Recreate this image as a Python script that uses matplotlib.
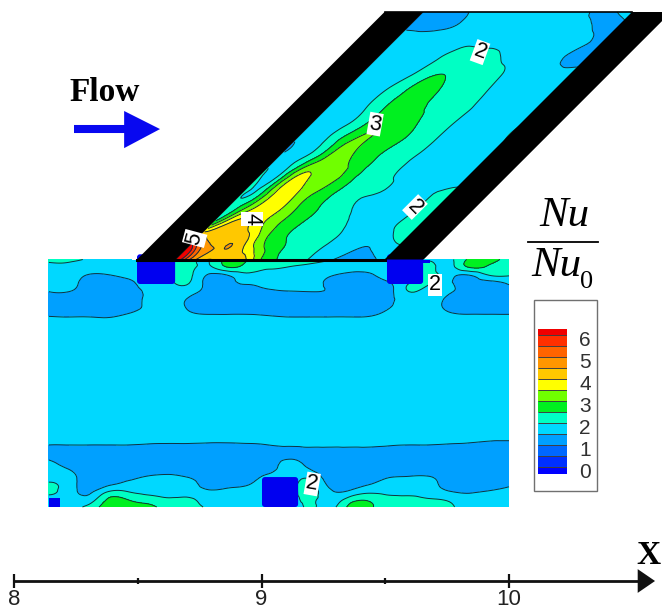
#!/usr/bin/env python

import numpy as np
import matplotlib
matplotlib.use("Agg")
import matplotlib.pyplot as plt
import matplotlib.tri as mtri
from matplotlib.colors import ListedColormap, BoundaryNorm
from matplotlib.patches import Polygon, Rectangle, FancyBboxPatch

# contour levels and band colours
levels = [-1, 0, 0.5, 1, 1.5, 2, 2.5, 3, 3.5, 4, 4.5, 5, 5.5, 6, 7]
line_levels = [0, 0.5, 1, 1.5, 2, 2.5, 3, 3.5, 4, 4.5, 5, 5.5, 6]
band_colors = ['#0000ff', '#0030ff', '#0068ff', '#00a0ff', '#00d8ff', '#00ffc4', '#00f020',
               '#70ff00', '#ffff00', '#ffc800', '#ff9600', '#ff6400', '#ff3000', '#f00000']
legend_ticks = [0, 1, 2, 3, 4, 5, 6]
axis_major = [8, 9, 10]
axis_minor = [8.5, 9.5]

# inclined channel: rows bottom to top, columns across from the left wall to the right wall
channel_y = [1.0, 1.072, 1.139, 1.207, 1.274, 1.341, 1.409, 1.476, 1.543, 1.611, 1.678, 1.745, 1.813, 1.880, 1.947, 2.0]
channel_u = np.linspace(0, 1, 13)
channel_nu = [
    [6.6, 4.6, 4.0, 4.25, 3.95, 2.8, 2.45, 2.15, 1.85, 1.48, 1.35, 1.4, 1.7],
    [5.6, 4.4, 4.45, 3.95, 3.0, 2.55, 2.3, 2.15, 1.97, 1.8, 1.6, 1.85, 2.1],
    [3.0, 4.2, 4.1, 3.45, 2.9, 2.5, 2.3, 2.15, 1.95, 1.85, 1.85, 2.15, 2.3],
    [2.1, 3.05, 3.8, 3.55, 2.95, 2.55, 2.25, 2.02, 1.85, 1.8, 1.7, 2.1, 2.3],
    [2.1, 2.4, 3.7, 3.55, 3.05, 2.6, 2.25, 2.05, 1.95, 1.7, 1.85, 2.0, 2.1],
    [2.1, 1.97, 3.4, 3.4, 3.2, 2.75, 2.4, 2.15, 1.95, 1.85, 1.8, 1.8, 1.8],
    [1.7, 1.9, 2.45, 3.2, 3.05, 2.7, 2.4, 2.15, 1.95, 1.85, 1.8, 1.8, 1.8],
    [1.5, 1.8, 2.2, 2.95, 3.0, 2.75, 2.5, 2.25, 1.98, 1.85, 1.8, 1.8, 2.02],
    [1.55, 1.7, 2.0, 2.5, 2.95, 2.8, 2.5, 2.25, 2.0, 1.85, 1.8, 1.75, 2.02],
    [1.6, 1.7, 1.95, 2.4, 2.75, 2.6, 2.45, 2.25, 2.03, 1.9, 1.8, 1.75, 1.8],
    [1.65, 1.75, 1.95, 2.3, 2.7, 2.6, 2.35, 2.2, 2.02, 1.85, 1.8, 1.75, 1.75],
    [1.7, 1.75, 1.85, 2.05, 2.45, 2.45, 2.25, 2.15, 2.0, 1.85, 1.8, 1.75, 1.7],
    [1.7, 1.75, 1.8, 1.9, 2.1, 2.2, 2.2, 2.0, 1.85, 1.8, 1.7, 1.35, 1.4],
    [1.7, 1.7, 1.75, 1.75, 1.9, 1.9, 1.85, 1.8, 1.75, 1.75, 1.75, 1.55, 1.3],
    [1.35, 1.35, 1.4, 1.6, 1.75, 1.75, 1.75, 1.75, 1.75, 1.75, 1.6, 1.3, 1.3],
    [1.3, 1.3, 1.4, 1.6, 1.75, 1.75, 1.75, 1.75, 1.75, 1.65, 1.3, 1.5, 2.2],
]

# lower passage: rows top to bottom
lower_x = np.linspace(8.141, 10.0, 24)
lower_y = [1.0, 0.968, 0.935, 0.903, 0.870, 0.838, 0.806, 0.773, 0.741, 0.708, 0.675, 0.6, 0.5, 0.4, 0.33, 0.31, 0.287,
           0.255, 0.223, 0.190, 0.158, 0.126, 0.093, 0.061, 0.028, 0.0]
lower_nu = [
    [2.1, 2.1, 1.95, 1.8, 1.75, 1.75, 2.0, 2.15, 1.98, 2.7, 2.48, 2.3, 2.2, 2.1, 2.03, 1.85, 1.75, 1.75, 1.75, 1.95, 1.9, 2.6, 2.7, 2.3],
    [1.85, 1.85, 1.75, 1.75, 1.75, 1.75, 2.0, 2.15, 1.9, 2.5, 2.2, 2.05, 1.98, 1.9, 1.8, 1.75, 1.7, 1.75, 1.75, 2.1, 1.85, 2.5, 2.4, 2.2],
    [1.75, 1.75, 1.45, 1.47, 1.6, 1.7, 1.95, 2.1, 1.4, 1.5, 1.9, 1.85, 1.8, 1.75, 1.55, 1.35, 1.4, 1.7, 1.8, 2.1, 1.7, 1.45, 1.97, 2.02],
    [1.75, 1.7, 1.3, 1.3, 1.4, 1.7, 1.9, 2.0, 1.3, 1.35, 1.55, 1.7, 1.75, 1.75, 1.4, 1.3, 1.3, 1.45, 2.0, 2.05, 1.6, 1.3, 1.3, 1.55],
    [1.5, 1.5, 1.3, 1.25, 1.3, 1.6, 1.75, 1.7, 1.3, 1.3, 1.3, 1.4, 1.47, 1.5, 1.45, 1.3, 1.3, 1.35, 2.0, 1.75, 1.55, 1.3, 1.3, 1.3],
    [1.3, 1.25, 1.25, 1.25, 1.25, 1.65, 1.75, 1.45, 1.25, 1.25, 1.25, 1.25, 1.25, 1.25, 1.25, 1.25, 1.25, 1.4, 1.75, 1.75, 1.4, 1.25, 1.25, 1.25],
    [1.3, 1.3, 1.3, 1.3, 1.3, 1.65, 1.75, 1.45, 1.3, 1.3, 1.3, 1.3, 1.3, 1.3, 1.3, 1.3, 1.3, 1.48, 1.75, 1.75, 1.4, 1.3, 1.3, 1.3],
    [1.48, 1.45, 1.45, 1.42, 1.6, 1.75, 1.75, 1.6, 1.55, 1.55, 1.55, 1.5, 1.45, 1.45, 1.45, 1.45, 1.47, 1.65, 1.75, 1.75, 1.6, 1.55, 1.55, 1.55],
    [1.75] * 24,
    [1.75] * 24,
    [1.75] * 24,
    [1.75] * 24,
    [1.75] * 24,
    [1.75] * 24,
    [1.75] * 24,
    [1.75] * 24,
    [1.75] * 24,
    [1.55, 1.55, 1.55, 1.55, 1.55, 1.5, 1.48, 1.48, 1.45, 1.45, 1.48, 1.55, 1.65, 1.68, 1.68, 1.68, 1.68, 1.6, 1.55, 1.55, 1.5, 1.45, 1.35, 1.35],
    [1.25] * 24,
    [1.5, 1.25, 1.25, 1.25, 1.25, 1.25, 1.25, 1.25, 1.25, 1.25, 1.25, 1.25, 1.55, 1.25, 1.25, 1.25, 1.25, 1.25, 1.25, 1.25, 1.25, 1.25, 1.25, 1.25],
    [1.75, 1.45, 1.25, 1.25, 1.25, 1.25, 1.32, 1.25, 1.25, 1.25, 1.25, 1.3, 1.75, 1.47, 1.25, 1.25, 1.25, 1.25, 1.25, 1.25, 1.25, 1.25, 1.25, 1.25],
    [1.85, 1.68, 1.25, 1.25, 1.38, 1.5, 1.55, 1.42, 1.25, 1.25, 1.25, 1.6, 1.75, 1.85, 1.25, 1.25, 1.25, 1.42, 1.48, 1.48, 1.25, 1.25, 1.25, 1.25],
    [2.05, 1.75, 1.25, 1.4, 1.6, 1.7, 1.75, 1.7, 1.3, 1.35, 1.47, 1.75, 1.75, 2.15, 1.38, 1.25, 1.47, 1.7, 1.7, 1.7, 1.25, 1.25, 1.27, 1.41],
    [2.1, 1.75, 1.41, 2.05, 2.0, 1.85, 1.8, 1.8, 1.58, 1.65, 1.7, 1.75, 1.75, 2.2, 1.63, 1.6, 1.9, 1.88, 1.85, 1.8, 1.55, 1.45, 1.55, 1.65],
    [1.75, 1.75, 1.75, 2.6, 2.5, 2.3, 2.1, 2.1, 1.75, 1.75, 1.75, 1.75, 1.75, 2.1, 1.75, 2.25, 2.45, 2.2, 2.15, 2.05, 1.95, 1.7, 1.75, 1.75],
    [1.75, 1.75, 2.2, 2.7, 2.7, 2.6, 2.3, 2.2, 1.9, 1.75, 1.75, 1.75, 1.75, 2.05, 1.85, 2.6, 2.6, 2.3, 2.2, 2.2, 2.1, 1.75, 1.75, 1.75],
]

# contour labels: text, x, y, rotation
contour_labels = [
    ('2', 9.883, 1.838, -20), ('3', 9.459, 1.547, -10), ('4', 8.962, 1.164, -90),
    ('5', 8.73, 1.085, 75), ('2', 9.62, 1.212, -45), ('2', 9.70, 0.897, 0), ('2', 9.205, 0.093, -10),
]

# solid ribs and walls
ribs = [(8.497, 0.901, 0.154, 0.12), (9.507, 0.901, 0.146, 0.12), (9.002, 0.0, 0.146, 0.121)]
corner_blocks = [(8.141, 0.0, 0.044, 0.036), (9.65, 0.985, 0.03, 0.015)]
wall_left = 8.497
wall_pitch = 1.0
wall_w = 0.158

PX = 247.5


def smooth_field(xg, yg, z):
    # library refiner so the bands come out rounded instead of faceted
    nrow, ncol = xg.shape
    tris = []
    for i in range(nrow - 1):
        for j in range(ncol - 1):
            a = i * ncol + j
            tris.append([a, a + 1, a + ncol + 1])
            tris.append([a, a + ncol + 1, a + ncol])
    tri = mtri.Triangulation(np.ravel(xg), np.ravel(yg), tris)
    return mtri.UniformTriRefiner(tri).refine_field(np.ravel(z), subdiv=3)


fig = plt.figure(figsize=(6.62, 6.11), dpi=100)
ax = fig.add_axes([0, 0, 1, 1])
ax.set_xlim(8 - 14 / PX, 8 + 648 / PX)
ax.set_ylim(-104 / PX, 507 / PX)
ax.axis('off')

# lower passage, rows flipped so the triangles wind the right way
LX, LY = np.meshgrid(lower_x, lower_y[::-1])
tri_l, z_l = smooth_field(LX, LY, np.array(lower_nu)[::-1])
ax.tricontourf(tri_l, z_l, levels=levels, colors=band_colors, zorder=1)
ax.tricontour(tri_l, z_l, levels=line_levels, colors='#103040', linewidths=0.7, zorder=2)

# channel, sheared 45 degrees
U, CY = np.meshgrid(channel_u, channel_y)
CX = 8.659 + U * 0.8485 + (CY - 1)
tri_c, z_c = smooth_field(CX, CY, np.array(channel_nu))
ax.tricontourf(tri_c, z_c, levels=levels, colors=band_colors, zorder=1)
ax.tricontour(tri_c, z_c, levels=line_levels, colors='#103040', linewidths=0.7, zorder=2)

# ribs sit under the walls so only the part in the passage shows
for x0, y0, w, h in ribs:
    r = 0.012
    ax.add_patch(FancyBboxPatch((x0 + r, y0 + r), w - 2 * r, h - 2 * r,
                                boxstyle='round,pad=%f,rounding_size=%f' % (r, r),
                                facecolor='#0000f0', edgecolor='none', zorder=2.5))
for x0, y0, w, h in corner_blocks:
    ax.add_patch(Rectangle((x0, y0), w, h, color='#0000f0', lw=0, zorder=2.5))

# walls
for x0 in [wall_left, wall_left + wall_pitch]:
    ax.add_patch(Polygon([(x0, 1), (x0 + wall_w, 1), (x0 + wall_w + 1, 2), (x0 + 1, 2)], color='black', lw=0, zorder=3))
ax.plot([wall_left, wall_left + wall_pitch], [1, 1], color='black', lw=2.2, zorder=5)
ax.plot([wall_left + 1, wall_left + wall_pitch + 1], [2, 2], color='black', lw=1.2, zorder=3)
# white above the rib tops, the ribs stop at the wall line
ax.add_patch(Rectangle((wall_left - 0.02, 1.0), 0.02, 0.03, color='white', lw=0, zorder=2.8))

# contour labels
for txt, x, y, rot in contour_labels:
    ax.text(x, y, txt, rotation=rot, ha='center', va='center', fontsize=15.5, family='Liberation Sans',
            color='black', zorder=6, bbox=dict(facecolor='white', edgecolor='none', pad=0.6))

# flow arrow
ax.text(8.226, 1.675, 'Flow', family='Liberation Serif', weight='bold', fontsize=24, ha='left', va='center')
ax.plot([8.243, 8.45], [1.527, 1.527], color='#0808f0', lw=5.8, solid_capstyle='butt')
ax.add_patch(Polygon([(8.445, 1.60), (8.59, 1.527), (8.445, 1.45)], color='#0808f0', lw=0))

# Nu / Nu0
ax.text(10.222, 1.175, 'Nu', family='Liberation Serif', style='italic', fontsize=31, ha='center', va='center')
ax.plot([10.078, 10.36], [1.071, 1.071], color='black', lw=1.3)
ax.text(10.19, 0.975, 'Nu', family='Liberation Serif', style='italic', fontsize=31, ha='center', va='center')
ax.text(10.315, 0.91, '0', family='Liberation Serif', fontsize=19, ha='center', va='center')

# legend box and bar
ax.add_patch(Rectangle((10.1, 0.065), 0.2545, 0.772, facecolor='white', edgecolor='#707070', lw=1))
cax = fig.add_axes([538 / 662, 1 - 474 / 611, 29 / 662, 145 / 611])
bar_edges = [-0.3] + line_levels + [6.29]
cax.pcolormesh([0, 1], bar_edges, np.arange(14).reshape(-1, 1), cmap=ListedColormap(band_colors),
               norm=BoundaryNorm(np.arange(15) - 0.5, 14), edgecolors='none')
cax.hlines(line_levels, 0, 1, color='#404040', lw=0.7)
cax.set_ylim(-0.3, 6.29)
cax.set_xticks([])
cax.yaxis.tick_right()
cax.set_yticks([t - 0.12 for t in legend_ticks])
cax.set_yticklabels([str(t) for t in legend_ticks], family='Liberation Sans', fontsize=15, color='#303030')
cax.tick_params(axis='y', length=0, pad=9)
for s in cax.spines.values():
    s.set_visible(False)

# x axis
axis_y = -0.299
ax.plot([8, 10.52], [axis_y, axis_y], color='#111111', lw=2.0)
ax.vlines(axis_major, axis_y - 0.028, axis_y + 0.028, color='#111111', lw=1.6)
ax.vlines(axis_minor, axis_y - 0.014, axis_y + 0.014, color='#111111', lw=1.6)
ax.add_patch(Polygon([(10.52, axis_y + 0.048), (10.59, axis_y), (10.52, axis_y - 0.048)], color='#111111', lw=0))
for t in axis_major:
    ax.text(t, -0.375, str(t), family='Liberation Sans', fontsize=16, color='#222222', ha='center', va='center')
ax.text(10.565, -0.195, 'X', family='Liberation Serif', weight='bold', fontsize=24, ha='center', va='center')

fig.savefig('out.png', dpi=100)
